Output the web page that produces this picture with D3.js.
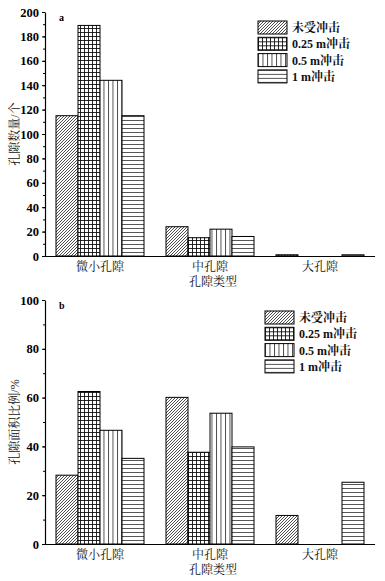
<!DOCTYPE html>
<html><head><meta charset="utf-8">
<script src="https://cdn.jsdelivr.net/npm/d3@7"></script>
<style>
html,body{margin:0;padding:0;background:#fff;}
svg{display:block;}
text{font-family:"Liberation Serif","Noto Serif CJK SC","Noto Sans CJK SC",serif;}
</style>
</head><body>
<svg id="c" width="385" height="581"></svg>
<script>
const categories = ["微小孔隙", "中孔隙", "大孔隙"];
const seriesNames = ["未受冲击", "0.25 m冲击", "0.5 m冲击", "1 m冲击"];
// chart a: pore count
const countUnimpacted = [115, 24, 1];
const count025 = [189, 15, 0];
const count05 = [144, 22, 0];
const count1 = [115, 16, 1];
// chart b: pore area ratio (%)
const areaUnimpacted = [28.2, 60.1, 11.7];
const area025 = [62.5, 37.6, 0];
const area05 = [46.6, 53.6, 0];
const area1 = [35.1, 39.8, 25.3];
const ticksA = [0, 20, 40, 60, 80, 100, 120, 140, 160, 180, 200];
const ticksB = [0, 20, 40, 60, 80, 100];

const svg = d3.select("#c");
const defs = svg.append("defs");
const patIds = ["pDiag", "pGrid", "pVert", "pHorz"];
// diagonal
(function(){
  const p = defs.append("pattern").attr("id","pDiag").attr("patternUnits","userSpaceOnUse").attr("width",3).attr("height",3);
  p.append("rect").attr("width",3).attr("height",3).attr("fill","#fff");
  p.append("path").attr("d","M-1,1 L1,-1 M0,3 L3,0 M2,4 L4,2").attr("stroke","#222").attr("stroke-width",0.8);
  const g = defs.append("pattern").attr("id","pGrid").attr("patternUnits","userSpaceOnUse").attr("width",4).attr("height",4);
  g.append("rect").attr("width",4).attr("height",4).attr("fill","#fff");
  g.append("path").attr("d","M0,0.5 H4 M0.5,0 V4").attr("stroke","#111").attr("stroke-width",0.9);
  const v = defs.append("pattern").attr("id","pVert").attr("patternUnits","userSpaceOnUse").attr("width",4.5).attr("height",4);
  v.append("rect").attr("width",4.5).attr("height",4).attr("fill","#fff");
  v.append("path").attr("d","M0.5,0 V4").attr("stroke","#333").attr("stroke-width",0.9);
  const h = defs.append("pattern").attr("id","pHorz").attr("patternUnits","userSpaceOnUse").attr("width",4).attr("height",4);
  h.append("rect").attr("width",4).attr("height",4).attr("fill","#fff");
  h.append("path").attr("d","M0,0.5 H4").attr("stroke","#444").attr("stroke-width",0.9);
})();

function drawChart(cfg) {
  const g = svg.append("g");
  const x0 = d3.scaleBand().domain(categories).range([45, 375]).paddingInner(0.2).paddingOuter(0.1);
  const x1 = d3.scaleBand().domain(seriesNames).range([0, x0.bandwidth()]);
  const y = d3.scaleLinear().domain([0, cfg.max]).range([cfg.bottom, cfg.top]);

  const data = [];
  categories.forEach((c, i) => cfg.series.forEach((s, j) => data.push({c, s: seriesNames[j], v: s[i], j})));
  g.selectAll("rect.bar").data(data).join("rect").attr("class","bar")
    .attr("x", d => x0(d.c) + x1(d.s))
    .attr("width", x1.bandwidth())
    .attr("y", d => y(d.v))
    .attr("height", d => y(0) - y(d.v))
    .attr("fill", d => `url(#${patIds[d.j]})`)
    .attr("stroke", "#000").attr("stroke-width", 1);

  // minor ticks
  const minor = d3.range(0, cfg.max + 0.1, cfg.minorStep);
  g.append("g").attr("transform", `translate(45,0)`)
    .call(d3.axisLeft(y).tickValues(minor).tickSize(2).tickFormat("").tickSizeOuter(0))
    .call(a => a.select(".domain").remove())
    .selectAll("line").attr("stroke", "#000");
  const ya = g.append("g").attr("transform", `translate(45,0)`)
    .call(d3.axisLeft(y).tickValues(cfg.ticks).tickSize(3).tickSizeOuter(0).tickPadding(3));
  ya.select(".domain").attr("stroke","#000").attr("stroke-width",1.2);
  ya.selectAll("text").attr("font-size", 12.5).attr("font-weight", "bold").attr("fill","#000")
    .attr("font-family","Liberation Serif");

  const xa = g.append("g").attr("transform", `translate(0,${cfg.bottom})`)
    .call(d3.axisBottom(x0).tickSize(0).tickPadding(6));
  xa.select(".domain").attr("stroke","#000").attr("stroke-width",1.2).attr("d", "M45,0.5H375");
  xa.selectAll("text").attr("font-size", 12).attr("fill","#111")
    .attr("font-family","'Noto Serif CJK SC','Noto Sans CJK SC',serif");

  g.append("text").attr("x", 213).attr("y", cfg.bottom + 30)
    .attr("text-anchor","middle").attr("font-size",12).attr("fill","#111")
    .attr("font-family","'Noto Serif CJK SC','Noto Sans CJK SC',serif")
    .text("孔隙类型");
  g.append("text").attr("transform", `translate(19,${(cfg.top + cfg.bottom)/2}) rotate(-90)`)
    .attr("text-anchor","middle").attr("font-size",12).attr("fill","#111")
    .attr("font-family","'Noto Serif CJK SC','Noto Sans CJK SC',serif")
    .text(cfg.ylabel);
  g.append("text").attr("x", 59).attr("y", cfg.top + 9)
    .attr("font-size",10).attr("font-weight","bold").attr("font-family","Liberation Serif")
    .text(cfg.tag);

  const leg = g.append("g").attr("transform", `translate(${cfg.legX},${cfg.legY})`);
  seriesNames.forEach((s, j) => {
    const r = leg.append("g").attr("transform", `translate(0,${j*16.3})`);
    r.append("rect").attr("width", 29).attr("height", 13)
      .attr("fill", `url(#${patIds[j]})`).attr("stroke","#000").attr("stroke-width",1);
    r.append("text").attr("x", 34).attr("y", 11).attr("font-size", 12).attr("font-weight","bold")
      .attr("fill","#111").text(s);
  });
}

drawChart({top: 12, bottom: 256, max: 200, ticks: ticksA, minorStep: 10,
  series: [countUnimpacted, count025, count05, count1], ylabel: "孔隙数量/个", tag: "a",
  legX: 258, legY: 21});
drawChart({top: 300, bottom: 544, max: 100, ticks: ticksB, minorStep: 10,
  series: [areaUnimpacted, area025, area05, area1], ylabel: "孔隙面积比例/%", tag: "b",
  legX: 265, legY: 311});
</script>
</body></html>
